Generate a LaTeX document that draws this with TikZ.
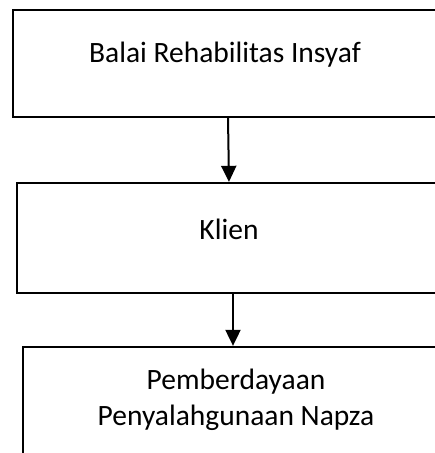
\documentclass[tikz,border=0pt]{standalone}
\usepackage{fontspec}
\setmainfont{Carlito}
\usetikzlibrary{arrows.meta}

\tikzset{
    kotak/.style={draw=black, line width=2.3pt, rectangle, inner sep=0pt},
    teks/.style={font=\fontsize{29.5}{36}\selectfont, align=center, inner sep=0pt},
    panah/.style={line width=2pt, -{Triangle[length=16pt,width=15pt]}}
}

\begin{document}
\begin{tikzpicture}[x=1pt,y=-1pt]
    % batas gambar
    \useasboundingbox (0,0) rectangle (435,453);
    \clip (0,0) rectangle (435,453);

    % kotak
    \node[kotak, minimum width=430pt, minimum height=107pt] (balai) at (228,63.5) {};
    \node[kotak, minimum width=424pt, minimum height=110pt] (klien) at (229,238) {};
    \node[kotak, minimum width=420pt, minimum height=130pt] (pemberdayaan) at (233,412) {};

    % teks
    \node[teks] (tbalai) at (225,55) {Balai Rehabilitas Insyaf};
    \node[teks] (tklien) at (229,229) {Klien};
    \node[teks] (tpemberdayaan) at (236,400) {Pemberdayaan\\Penyalahgunaan Napza};

    % panah
    \draw[panah] (balai.south) -- (klien.north);
    \draw[panah] (klien.south -| pemberdayaan.north) -- (pemberdayaan.north);

\end{tikzpicture}
\end{document}
